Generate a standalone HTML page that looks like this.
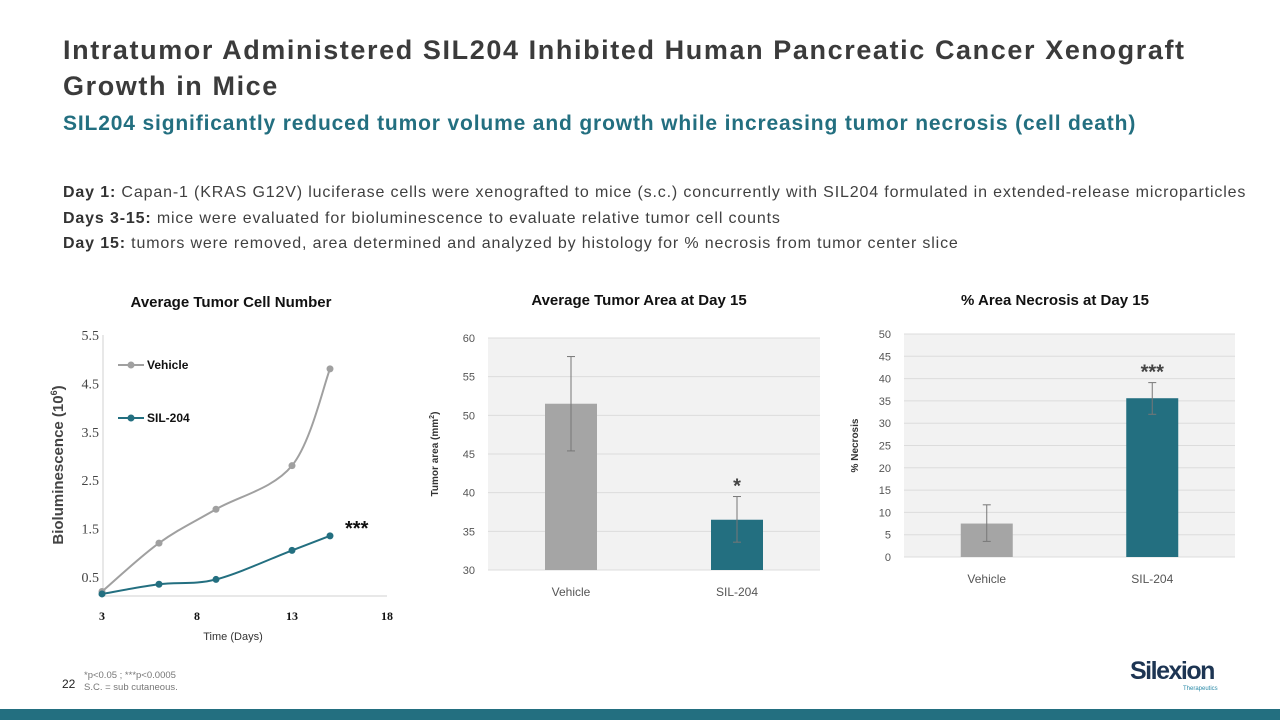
<!DOCTYPE html>
<html><head><meta charset="utf-8"><style>
body{margin:0;width:1280px;height:720px;overflow:hidden;background:#fff;font-family:"Liberation Sans",sans-serif;position:relative}
.abs{position:absolute}
h1{position:absolute;left:63px;top:32px;margin:0;font-size:27px;line-height:36px;color:#3b3b3b;font-weight:bold;width:1210px;letter-spacing:1.6px;white-space:nowrap}
.sub{left:63px;top:112px;font-size:21px;font-weight:bold;color:#236f80;letter-spacing:0.85px;white-space:nowrap}
.desc{left:63px;top:180px;font-size:16px;color:#404040;line-height:25.5px;letter-spacing:0.85px;white-space:nowrap}
.desc b{color:#333}
</style></head><body>
<h1>Intratumor Administered SIL204 Inhibited Human Pancreatic Cancer Xenograft<br>Growth in Mice</h1>
<div class="abs sub">SIL204 significantly reduced tumor volume and growth while increasing tumor necrosis (cell death)</div>
<div class="abs desc">
<div><b>Day 1:</b> Capan-1 (KRAS G12V) luciferase cells were xenografted to mice (s.c.) concurrently with SIL204 formulated in extended-release microparticles</div>
<div><b>Days 3-15:</b> mice were evaluated for bioluminescence to evaluate relative tumor cell counts</div>
<div><b>Day 15:</b> tumors were removed, area determined and analyzed by histology for % necrosis from tumor center slice</div>
</div>
<svg class="abs" style="left:0;top:0" width="1280" height="720" id="svg"></svg>
<div class="abs" style="left:62px;top:677px;font-size:12px;color:#222">22</div>
<div class="abs" style="left:84px;top:670px;font-size:9.5px;color:#777;line-height:12px">*p&lt;0.05 ; ***p&lt;0.0005<br>S.C. = sub cutaneous.</div>
<div class="abs" style="left:1130px;top:657px;font-size:25px;font-weight:bold;color:#1d3553;letter-spacing:-1.5px">Silexion</div>
<div class="abs" style="left:1183px;top:686px;font-size:6px;color:#2a8aa8">Therapeutics</div>
<div class="abs" style="left:0;top:709px;width:1280px;height:11px;background:#236f80"></div>
<script>
const lineDays=[3,6,9,13,15];
const vehicleLine=[0.2,1.2,1.9,2.8,4.8];
const silLine=[0.15,0.35,0.45,1.05,1.35];
const xTicks=[3,8,13,18];
const yTicks1=[0.5,1.5,2.5,3.5,4.5,5.5];
const barCats=['Vehicle','SIL-204'];
const areaVals=[51.5,36.5];
const areaLo=[45.4,33.6];
const areaHi=[57.6,39.5];
const areaTicks=[30,35,40,45,50,55,60];
const necVals=[7.5,35.6];
const necLo=[3.5,32];
const necHi=[11.7,39.1];
const necTicks=[0,5,10,15,20,25,30,35,40,45,50];
const NS='http://www.w3.org/2000/svg';
const svg=document.getElementById('svg');
function mk(tag,attrs,parent,text){const e=document.createElementNS(NS,tag);for(const k in attrs)e.setAttribute(k,attrs[k]);if(text!==undefined)e.textContent=text;(parent||svg).appendChild(e);return e;}
// Chart 1
const g1=mk('g',{});


const x1=d=>102+(d-3)*19, y1=v=>577-(v-0.5)*48.4;
let t=mk('text',{x:231,y:307,'text-anchor':'middle','font-size':15,'font-weight':'bold',fill:'#111'},g1,'Average Tumor Cell Number');

mk('line',{x1:103,y1:335,x2:103,y2:596,stroke:'#d0d0d0'},g1);
mk('line',{x1:103,y1:596,x2:387,y2:596,stroke:'#d0d0d0'},g1);
yTicks1.forEach(v=>{const e=mk('text',{x:99,y:y1(v)+5,'text-anchor':'end','font-size':14,fill:'#444','font-family':'Liberation Serif'},g1,v.toFixed(1));});
xTicks.forEach(v=>{const e=mk('text',{x:x1(v),y:620,'text-anchor':'middle','font-size':12,'font-weight':'bold',fill:'#111','font-family':'Liberation Serif'},g1,v);});
t=mk('text',{x:233,y:640,'text-anchor':'middle','font-size':11,fill:'#333'},g1,'Time (Days)');
t=mk('text',{transform:'translate(63,465) rotate(-90)','text-anchor':'middle','font-size':15,'font-weight':'bold',fill:'#444'},g1);

t.innerHTML='Bioluminescence (10<tspan font-size="9" dy="-6">6</tspan><tspan dy="6">)</tspan>';
function smooth(pts){let d='M'+pts[0][0]+','+pts[0][1];for(let i=0;i<pts.length-1;i++){const p0=pts[i-1]||pts[i],p1=pts[i],p2=pts[i+1],p3=pts[i+2]||p2;const c1=[p1[0]+(p2[0]-p0[0])/6,p1[1]+(p2[1]-p0[1])/6],c2=[p2[0]-(p3[0]-p1[0])/6,p2[1]-(p3[1]-p1[1])/6];d+=` C${c1} ${c2} ${p2}`;}return d;}
[[vehicleLine,'#a0a0a0','vehicle'],[silLine,'#236f80','sil-204']].forEach(([vals,c,n])=>{
 const pts=lineDays.map((d,i)=>[x1(d),y1(vals[i])]);
 const p=mk('path',{d:smooth(pts),fill:'none',stroke:c,'stroke-width':2},g1);
 
 pts.forEach(q=>{const m=mk('circle',{cx:q[0],cy:q[1],r:3.5,fill:c},g1);});
});
[['Vehicle','#a0a0a0',365],['SIL-204','#236f80',418]].forEach(([l,c,y])=>{
 const lg=mk('g',{},g1);
 mk('line',{x1:118,y1:y,x2:144,y2:y,stroke:c,'stroke-width':2},lg);
 mk('circle',{cx:131,cy:y,r:3.5,fill:c},lg);
 mk('text',{x:147,y:y+4,'font-size':12,'font-weight':'bold',fill:'#111'},lg,l);
});
t=mk('text',{x:345,y:535,'font-size':20,'font-weight':'bold',fill:'#111'},g1,'***');
// Bar charts
function barChart(o){
 const g=mk('g',{});
 const y=v=>o.bot-(v-o.min)/(o.max-o.min)*(o.bot-o.top);
 const bg=mk('rect',{x:o.left,y:o.top,width:o.right-o.left,height:o.bot-o.top,fill:'#f2f2f2'},g);
 o.ticks.forEach(v=>{mk('line',{x1:o.left,y1:y(v),x2:o.right,y2:y(v),stroke:'#dcdcdc'},g);const e=mk('text',{x:o.left-13,y:y(v)+4,'text-anchor':'end','font-size':11,fill:'#555'},g,v);});
 const step=(o.right-o.left)/2;
 o.cats.forEach((c,i)=>{const cx=o.left+step*(i+0.5);
  const b=mk('rect',{x:cx-26,y:y(o.vals[i]),width:52,height:o.bot-y(o.vals[i]),fill:i?'#236f80':'#a5a5a5'},g);
  const eg=mk('g',{stroke:'#777','stroke-width':1},g);
  mk('line',{x1:cx,y1:y(o.hi[i]),x2:cx,y2:y(o.lo[i])},eg);mk('line',{x1:cx-4,y1:y(o.hi[i]),x2:cx+4,y2:y(o.hi[i])},eg);mk('line',{x1:cx-4,y1:y(o.lo[i]),x2:cx+4,y2:y(o.lo[i])},eg);
  const l=mk('text',{x:cx,y:o.bot+26,'text-anchor':'middle','font-size':12,fill:'#555'},g,c);
  if(i==1){const s=mk('text',{x:cx,y:y(o.hi[i])+o.starDy,'text-anchor':'middle','font-size':20,'font-weight':'bold',fill:'#444'},g,o.star);}
 });
 const tt=mk('text',{x:o.tx,y:305,'text-anchor':'middle','font-size':15,'font-weight':'bold',fill:'#111'},g,o.title);
 const yt=mk('text',{transform:`translate(${o.ax},${(o.top+o.bot)/2}) rotate(-90)`,'text-anchor':'middle','font-size':10,'font-weight':'bold',fill:'#333'},g);yt.innerHTML=o.ytitle;
}
barChart({name:'tumor-area-chart',left:488,right:820,top:338,bot:570,min:30,max:60,ticks:areaTicks,cats:barCats,vals:areaVals,lo:areaLo,hi:areaHi,star:'*',starDy:-4,title:'Average Tumor Area at Day 15',tx:639,ax:438,ytitle:'Tumor area (mm<tspan font-size="7" dy="-4">2</tspan><tspan dy="4">)</tspan>'});
barChart({name:'necrosis-chart',left:904,right:1235,top:334,bot:557,min:0,max:50,ticks:necTicks,cats:barCats,vals:necVals,lo:necLo,hi:necHi,star:'***',starDy:-4,title:'% Area Necrosis at Day 15',tx:1055,ax:858,ytitle:'% Necrosis'});
</script>
</body></html>
